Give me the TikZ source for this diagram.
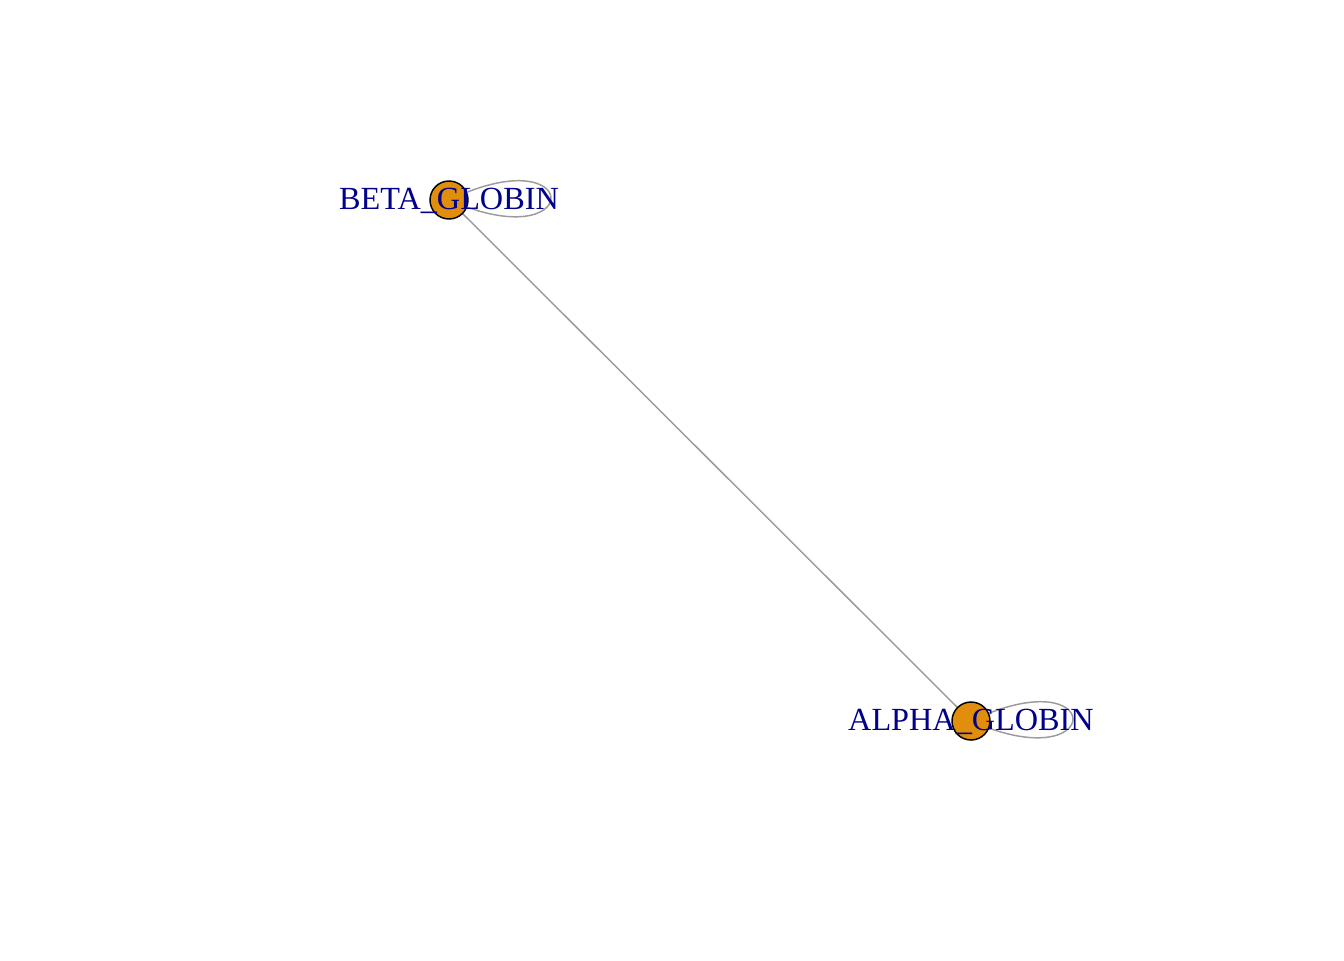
\documentclass[tikz,border=0pt]{standalone}
\usepackage{fontspec}
\setmainfont{Liberation Serif}
\definecolor{vertexorange}{RGB}{224,142,11}
\definecolor{edgegrey}{RGB}{155,155,155}
\definecolor{labelblue}{RGB}{0,0,139}

\begin{document}
\begin{tikzpicture}[x=0.75bp, y=-0.75bp,
    vertex/.style={circle, draw=black, line width=1.1pt, fill=vertexorange, minimum size=28.5bp, inner sep=0pt},
    gene/.style={text=labelblue, anchor=base, inner sep=0pt, font=\fontsize{24.2bp}{28bp}\selectfont},
    link/.style={draw=edgegrey, line width=1.1pt}]
    \useasboundingbox (0,0) rectangle (1344,960);
    % vertices
    \coordinate (b) at (449,200);
    \coordinate (a) at (971,721);
    % edges first, vertices on top
    \draw[link] (b) -- (a);
    \draw[link] (b) .. controls +(136,-65) and +(136,60) .. (b);
    \draw[link] (a) .. controls +(136,-65) and +(136,60) .. (a);
    \node[vertex] (beta) at (b) {};
    \node[vertex] (alpha) at (a) {};
    % labels
    \node[gene] (betalbl) at (449,209.5) {BETA\_GLOBIN};
    \node[gene] (alphalbl) at (971,730.5) {ALPHA\_GLOBIN};
  \end{tikzpicture}
\end{document}
